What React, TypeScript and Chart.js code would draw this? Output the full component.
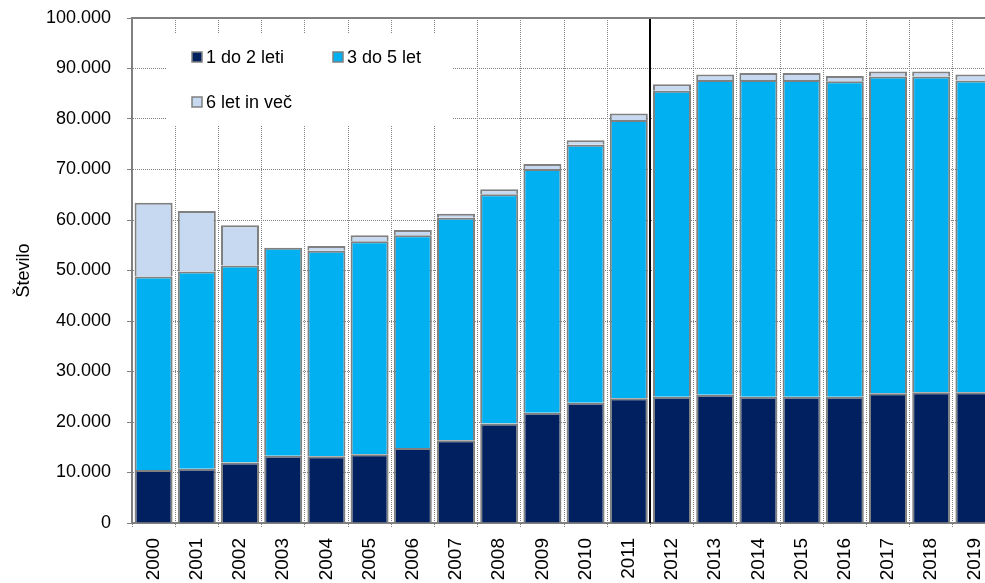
import React, { useEffect, useRef } from "react";
import { Chart, registerables } from "chart.js";

Chart.register(...registerables);

const categories = ["2000", "2001", "2002", "2003", "2004", "2005", "2006", "2007", "2008", "2009", "2010", "2011", "2012", "2013", "2014", "2015", "2016", "2017", "2018", "2019"];

const age1to2 = [10500, 10750, 12000, 13300, 13200, 13600, 14850, 16400, 19700, 21850, 23800, 24700, 25000, 25400, 25000, 25000, 25000, 25700, 25900, 25900];
const age3to5 = [38300, 39050, 39000, 41200, 40700, 42200, 42150, 44050, 45400, 48250, 51100, 55100, 60600, 62300, 62700, 62700, 62500, 62700, 62500, 61700];
const age6plus = [14600, 12000, 7950, 0, 950, 1200, 1000, 800, 1000, 1000, 900, 1300, 1300, 1100, 1400, 1400, 1000, 1000, 1000, 1200];

const seriesLabels = ["1 do 2 leti", "3 do 5 let", "6 let in več"];
const seriesColors = ["#002060", "#00B0F0", "#C6D9F1"];
const yAxisTitle = "Število";
const breakAfterIndex = 11;

const FONT = "'Liberation Sans', Arial, sans-serif";
const GRID = "#808080";

const fmt = (v: number) => String(v).replace(/\B(?=(\d{3})+(?!\d))/g, ".");

const overlayPlugin = {
  id: "overlay",
  afterDatasetsDraw(chart: any) {
    const { ctx, chartArea, scales } = chart;
    const xs = scales.x;
    const px = Math.round((xs.getPixelForValue(breakAfterIndex) + xs.getPixelForValue(breakAfterIndex + 1)) / 2);
    ctx.save();
    ctx.strokeStyle = "#000";
    ctx.lineWidth = 2;
    ctx.beginPath();
    ctx.moveTo(px, chartArea.top);
    ctx.lineTo(px, chartArea.bottom);
    ctx.stroke();
    ctx.strokeStyle = GRID;
    ctx.lineWidth = 2;
    ctx.beginPath();
    ctx.moveTo(chartArea.left, chartArea.top);
    ctx.lineTo(chartArea.right, chartArea.top);
    ctx.stroke();
    ctx.restore();
  },
  afterDraw(chart: any) {
    const { ctx, chartArea } = chart;
    const L = chartArea.left;
    const T = chartArea.top;
    ctx.save();
    ctx.fillStyle = "#fff";
    ctx.fillRect(L + 34, T + 15, 286, 92);
    const items = [
      { dx: 60, dy: 39 },
      { dx: 201, dy: 39 },
      { dx: 60, dy: 84 },
    ];
    ctx.font = `18px ${FONT}`;
    ctx.textBaseline = "middle";
    ctx.textAlign = "left";
    chart.data.datasets.forEach((ds: any, i: number) => {
      const it = items[i];
      const mx = L + it.dx;
      const my = T + it.dy;
      ctx.fillStyle = ds.backgroundColor;
      ctx.fillRect(mx, my - 5, 10, 10);
      ctx.strokeStyle = "#808080";
      ctx.lineWidth = 1.5;
      ctx.strokeRect(mx, my - 5, 10, 10);
      ctx.fillStyle = "#000";
      ctx.fillText(ds.label, mx + 14, my + 1);
    });
    ctx.restore();
  },
};

export default function App() {
  const ref = useRef<HTMLCanvasElement | null>(null);
  useEffect(() => {
    if (!ref.current) return;
    const datasets = [age1to2, age3to5, age6plus].map((d, i) => ({
      label: seriesLabels[i],
      data: d,
      backgroundColor: seriesColors[i],
      borderColor: "#808080",
      borderWidth: 2,
      borderSkipped: "start" as any,
      categoryPercentage: 1,
      barPercentage: 0.88,
    }));
    const chart = new Chart(ref.current, {
      type: "bar",
      data: { labels: categories, datasets },
      plugins: [overlayPlugin],
      options: {
        responsive: false,
        animation: false,
        layout: { padding: { top: 18, right: 4, left: 0, bottom: 0 } },
        plugins: { legend: { display: false }, tooltip: { enabled: false } },
        scales: {
          x: {
            stacked: true,
            grid: {
              offset: true,
              color: GRID,
              lineWidth: 1,
              tickLength: 4,
              tickColor: GRID,
              tickBorderDash: [1, 1],
            },
            border: { display: true, color: GRID, width: 2, dash: [1, 1] },
            ticks: {
              color: "#000",
              font: { family: FONT, size: 19 },
              maxRotation: 90,
              minRotation: 90,
              padding: 11,
              autoSkip: false,
            },
            afterFit: (s: any) => {
              s.height = 60;
              s.paddingLeft = 0;
              s.paddingRight = 0;
              s.paddingTop = 0;
              s.paddingBottom = 0;
            },
          },
          y: {
            stacked: true,
            min: 0,
            max: 100000,
            grid: {
              color: GRID,
              lineWidth: 1,
              tickLength: 5,
              tickColor: GRID,
            },
            border: { display: true, color: GRID, width: 2, dash: [1, 1] },
            ticks: {
              stepSize: 10000,
              color: "#000",
              font: { family: FONT, size: 18 },
              padding: 16,
              callback: (v: any) => fmt(Number(v)),
            },
            title: {
              display: true,
              text: yAxisTitle,
              color: "#000",
              font: { family: FONT, size: 18 },
              padding: { top: 13, bottom: 0 },
            },
            afterFit: (s: any) => {
              s.width = 132;
              s.paddingTop = 0;
              s.paddingBottom = 0;
              s.paddingLeft = 0;
              s.paddingRight = 0;
            },
          },
        },
      },
    });
    return () => chart.destroy();
  }, []);
  return (
    <div style={{ position: "fixed", left: 0, top: 0, width: 1000, height: 583, background: "#fff" }}>
      <canvas ref={ref} width={1000} height={583} style={{ width: 1000, height: 583, display: "block" }} />
    </div>
  );
}
